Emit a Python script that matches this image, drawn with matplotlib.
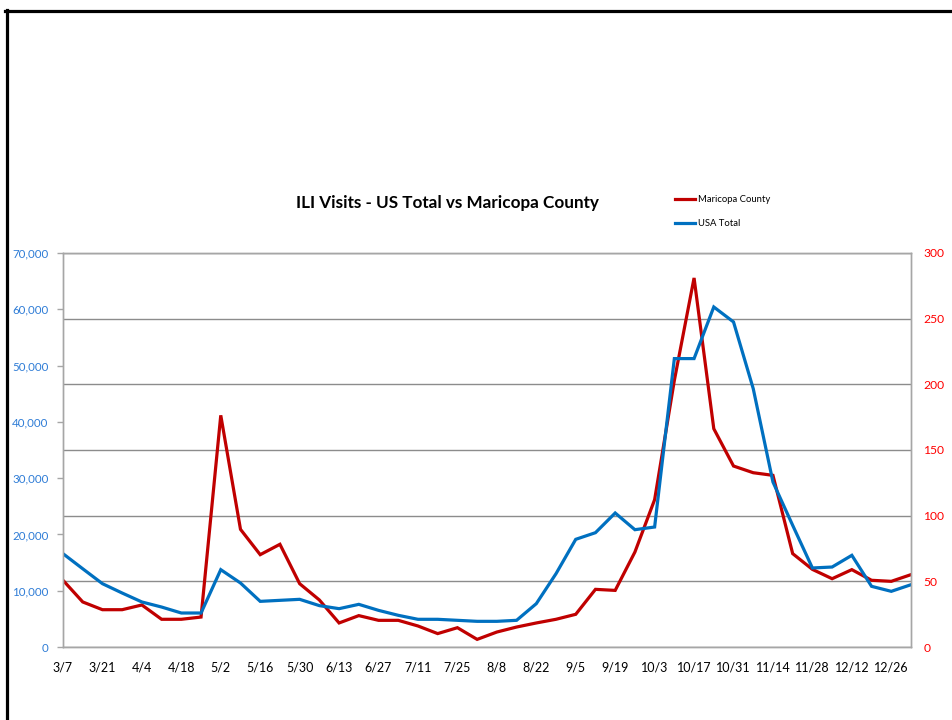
import matplotlib
matplotlib.use("Agg")
from matplotlib import pyplot as plt
from matplotlib.lines import Line2D
from matplotlib.ticker import FuncFormatter

plt.rcParams['font.family'] = ['Lato', 'DejaVu Sans']

# weekly values, 3/7 .. 1/2
usa = [16580, 13900, 11250, 9590, 8000, 7100, 6040, 6040, 13740, 11370,
       8110, 8290, 8470, 7350, 6810, 7580, 6510, 5630, 4920, 4920,
       4740, 4560, 4560, 4740, 7700, 13030, 19130, 20310, 23810, 20840,
       21320, 51240, 51240, 60410, 57750, 45900, 29310, 21620, 14040, 14210,
       16290, 10780, 9890, 11070]
maricopa = [50.8, 34.3, 28.4, 28.4, 32, 21.1, 21.1, 22.8, 176.4, 89.6,
            70.3, 78.2, 48.2, 35.8, 18.3, 23.9, 20.3, 20.3, 16, 10.2,
            14.7, 5.8, 11.4, 15.2, 18.3, 21.1, 24.9, 43.9, 43.1, 72.3,
            112.2, 203, 281, 166.2, 137.8, 132.7, 130.7, 71.1, 59.1, 52,
            58.9, 50.8, 50, 55.1]
tick_labels = ["3/7", "3/21", "4/4", "4/18", "5/2", "5/16", "5/30", "6/13",
               "6/27", "7/11", "7/25", "8/8", "8/22", "9/5", "9/19", "10/3",
               "10/17", "10/31", "11/14", "11/28", "12/12", "12/26"]

red = "#C00000"
blue = "#0070C0"
x = list(range(len(usa)))

fig = plt.figure(figsize=(9.53, 7.2), dpi=100)
ax1 = fig.add_axes([63 / 953, 1 - 647 / 720, 848 / 953, 394 / 720])
ax2 = ax1.twinx()

ax2.plot(x, maricopa, color=red, lw=2.3, solid_joinstyle='miter')
ax1.plot(x, usa, color=blue, lw=2.3, solid_joinstyle='miter')

# blue drawn above red, grid behind both
ax1.set_zorder(ax2.get_zorder() + 1)
ax1.patch.set_visible(False)

ax1.set_xlim(0, 43)
ax1.set_ylim(0, 70000)
ax2.set_ylim(0, 300)
ax1.set_yticks(range(0, 70001, 10000))
ax2.set_yticks(range(0, 301, 50))
ax1.yaxis.set_major_formatter(FuncFormatter(lambda v, p: f"{int(v):,}"))
ax1.set_xticks(range(0, 44, 2))
ax1.set_xticklabels(tick_labels)

ax2.grid(axis='y', color="#8c8c8c", lw=1.0)
ax2.set_axisbelow(True)

for a in (ax1, ax2):
    for s in a.spines.values():
        s.set_color("#a6a6a6")
        s.set_linewidth(1.0)

ax1.tick_params(axis='y', colors="#a6a6a6", labelcolor="#2E7CD6", labelsize=8.3,
                length=4, width=1, pad=6.5)
ax1.tick_params(axis='x', length=0, labelsize=9, labelcolor="black", pad=10.5)
ax2.tick_params(axis='y', length=0, labelcolor="#FF0000", labelsize=8.7, pad=9)

fig.text(447 / 953, 1 - 203 / 720, "ILI Visits - US Total vs Maricopa County",
         ha='center', va='center', fontsize=12.3, fontweight='bold')

handles = [Line2D([], [], color=red, lw=2.3), Line2D([], [], color=blue, lw=2.3)]
fig.legend(handles, ["Maricopa County", "USA Total"], loc='upper left',
           bbox_to_anchor=(675 / 953, 1 - 195 / 720), frameon=False,
           fontsize=6.8, handlelength=2.1, handletextpad=0.3,
           labelspacing=1.6, borderaxespad=0, borderpad=0)

# slide frame
fig.add_artist(Line2D([5 / 953, 1], [1 - 10.5 / 720] * 2, color="black", lw=2.3))
fig.add_artist(Line2D([6.5 / 953] * 2, [0, 1 - 9.5 / 720], color="black", lw=2.3))

fig.savefig("out.png", dpi=100)
